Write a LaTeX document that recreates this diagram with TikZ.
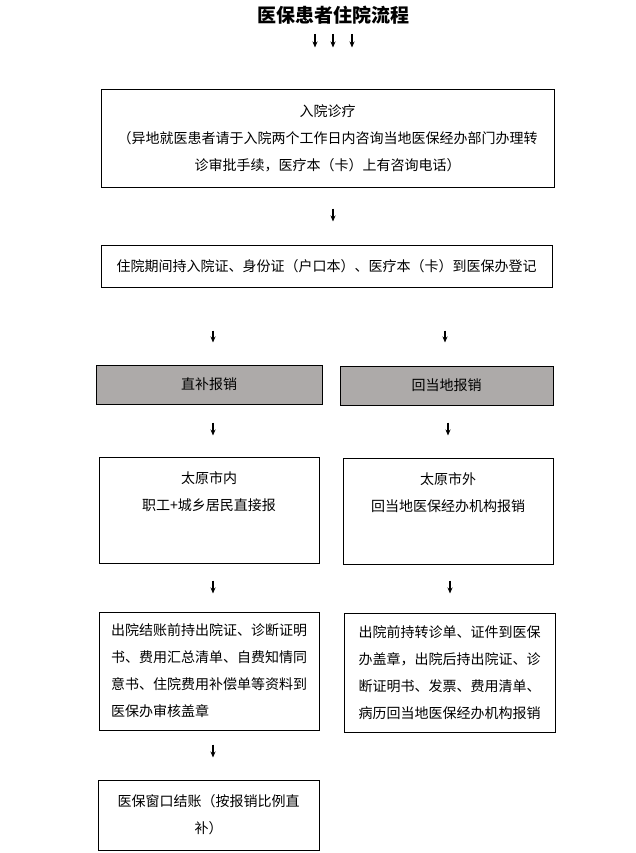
\documentclass[tikz,border=0pt]{standalone}
\usepackage{fontspec}
\setmainfont{Noto Sans CJK SC}
\usetikzlibrary{arrows.meta,positioning}
\definecolor{boxgray}{RGB}{173,170,169}
\begin{document}
\begin{tikzpicture}[x=1pt,y=-1pt,
    every node/.style={inner sep=0pt,font=\fontsize{14pt}{27pt}\selectfont},
    box/.style 2 args={draw,line width=1pt,minimum width=#1,minimum height=#2},
    arr/.style 2 args={-{Stealth[length=6pt,width=5pt]},line width=1.3pt,shorten <=#1,shorten >=#2}]
    \useasboundingbox (0,0) rectangle (635,853);
    \node[font=\fontsize{19pt}{22pt}\selectfont\bfseries] (title) at (333,15) {医保患者住院流程};
    \node[box={453}{97},align=center] (ruyuan) at (327.5,138.5) {入院诊疗\\（异地就医患者请于入院两个工作日内咨询当地医保经办部门办理转\\诊审批手续，医疗本（卡）上有咨询电话）};
    \node[box={451}{42}] (dengji) at (326.5,266) {住院期间持入院证、身份证（户口本）、医疗本（卡）到医保办登记};
    \node[box={226}{39},fill=boxgray] (zhibu) at (209,384.5) {直补报销};
    \node[box={213}{39},fill=boxgray] (huidi) at (446.5,385.5) {回当地报销};
    \node[box={220}{106}] (shinei) at (209,510) {};
    \node[box={210}{106}] (shiwai) at (448,511) {};
    \node[align=center,below=15pt of shinei.north] (shineitxt) {太原市内\\职工+城乡居民直接报};
    \node[align=center,below=15pt of shiwai.north] (shiwaitxt) {太原市外\\回当地医保经办机构报销};
    \node[box={220}{118},align=left] (cyL) at (209,671) {出院结账前持出院证、诊断证明\\书、费用汇总清单、自费知情同\\意书、住院费用补偿单等资料到\\医保办审核盖章};
    \node[box={211}{119},align=left] (cyR) at (449.5,672.5) {出院前持转诊单、证件到医保\\办盖章，出院后持出院证、诊\\断证明书、发票、费用清单、\\病历回当地医保经办机构报销};
    \node[box={221}{70},align=center] (jiesuan) at (208.5,815) {医保窗口结账（按报销比例直\\补）};
    % arrows
    \foreach \dx in {-18,0,19}
        \draw[arr={9.5pt}{42pt}] ([xshift=\dx pt]title.south) -- ([xshift=\dx pt]title.south |- ruyuan.north);
    \draw[arr={21pt}{23pt}] ([xshift=5.5pt]ruyuan.south) -- ([xshift=5.5pt]ruyuan.south |- dengji.north);
    \draw[arr={43pt}{22pt}] ([xshift=4pt]zhibu.north |- dengji.south) -- ([xshift=4pt]zhibu.north);
    \draw[arr={43pt}{23pt}] ([xshift=-1.5pt]huidi.north |- dengji.south) -- ([xshift=-1.5pt]huidi.north);
    \draw[arr={18pt}{21pt}] ([xshift=4pt]zhibu.south) -- ([xshift=4pt]shinei.north);
    \draw[arr={17pt}{22pt}] ([xshift=1.5pt]huidi.south) -- ([xshift=1.5pt]huidi.south |- shiwai.north);
    \draw[arr={17pt}{18pt}] ([xshift=4pt]shinei.south) -- ([xshift=4pt]cyL.north);
    \draw[arr={16pt}{19pt}] ([xshift=2pt]shiwai.south) -- ([xshift=2pt]shiwai.south |- cyR.north);
    \draw[arr={14pt}{22pt}] ([xshift=4pt]cyL.south) -- ([xshift=4pt]cyL.south |- jiesuan.north);
\end{tikzpicture}
\end{document}
